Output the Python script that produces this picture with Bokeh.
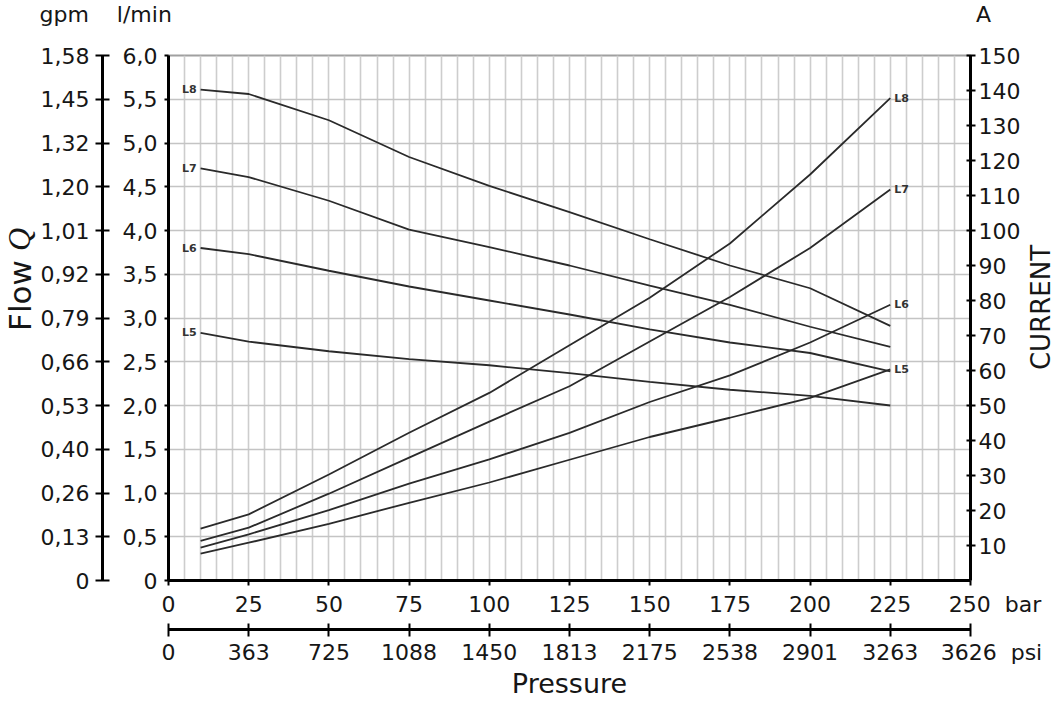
import numpy as np
from bokeh.plotting import figure
from bokeh.models import (Range1d, LinearAxis, FixedTicker, Grid, Label,
                          ColumnDataSource)
from bokeh.core.properties import value
from bokeh.embed import file_html
from bokeh.resources import INLINE

# ---------------- data ----------------
pressure_bar = [10, 25, 50, 75, 100, 125, 150, 175, 200, 225]

flow_L8 = [5.61, 5.56, 5.26, 4.84, 4.51, 4.21, 3.90, 3.60, 3.34, 2.91]
flow_L7 = [4.71, 4.61, 4.34, 4.01, 3.81, 3.60, 3.37, 3.15, 2.90, 2.67]
flow_L6 = [3.80, 3.73, 3.54, 3.36, 3.20, 3.04, 2.87, 2.72, 2.60, 2.39]
flow_L5 = [2.83, 2.73, 2.62, 2.53, 2.46, 2.37, 2.27, 2.18, 2.11, 2.00]

current_L8 = [14.8, 18.9, 30.3, 42.2, 53.6, 67.2, 80.8, 96.3, 116.0, 137.8]
current_L7 = [11.3, 15.1, 24.8, 35.1, 45.4, 55.5, 68.3, 81.0, 95.0, 111.7]
current_L6 = [9.4, 13.2, 20.1, 27.7, 34.6, 42.2, 51.0, 58.6, 68.0, 78.8]
current_L5 = [7.7, 10.8, 16.2, 22.2, 28.0, 34.5, 41.0, 46.5, 52.2, 60.3]

series_names = ["L5", "L6", "L7", "L8"]
flows = [flow_L5, flow_L6, flow_L7, flow_L8]
currents = [current_L5, current_L6, current_L7, current_L8]

bar_ticks = [0, 25, 50, 75, 100, 125, 150, 175, 200, 225, 250]
bar_labels = ["0", "25", "50", "75", "100", "125", "150", "175", "200", "225", "250"]
psi_labels = ["0", "363", "725", "1088", "1450", "1813", "2175", "2538", "2901", "3263", "3626"]
lmin_ticks = [0.0, 0.5, 1.0, 1.5, 2.0, 2.5, 3.0, 3.5, 4.0, 4.5, 5.0, 5.5, 6.0]
lmin_labels = ["0", "0,5", "1,0", "1,5", "2,0", "2,5", "3,0", "3,5", "4,0", "4,5", "5,0", "5,5", "6,0"]
gpm_labels = ["0", "0,13", "0,26", "0,40", "0,53", "0,66", "0,79", "0,92", "1,01", "1,20", "1,32", "1,45", "1,58"]
current_ticks = [10, 20, 30, 40, 50, 60, 70, 80, 90, 100, 110, 120, 130, 140, 150]
grid_x_ticks = list(range(0, 251, 5))

unit_gpm, unit_lmin, unit_amp = "gpm", "l/min", "A"
unit_bar, unit_psi = "bar", "psi"
title_flow, title_q, title_pressure, title_current = "Flow", "Q", "Pressure", "CURRENT"

# ---------------- figure ----------------
FONT = "DejaVu Sans"
INK = "#161616"
LINE = "#2a2a2a"
NB = "\u00a0"

p = figure(width=1055, height=701, x_range=Range1d(0, 250), y_range=Range1d(0, 6),
           x_axis_type=None, y_axis_type=None, output_backend="svg",
           toolbar_location=None, min_border_left=168, min_border_right=85,
           min_border_top=55, min_border_bottom=121)
p.extra_y_ranges = {"current": Range1d(0, 150)}
p.outline_line_color = "#a0a0a0"
p.outline_line_width = 2
p.background_fill_color = "white"
p.border_fill_color = "white"

p.add_layout(Grid(dimension=0, ticker=FixedTicker(ticks=grid_x_ticks),
                  grid_line_color="#cdcdcd", grid_line_width=1.6))
p.add_layout(Grid(dimension=1, ticker=FixedTicker(ticks=lmin_ticks),
                  grid_line_color="#c4c4c4", grid_line_width=1.6))


def style_axis(ax, tick_in, tick_out, standoff, fs="22px"):
    ax.axis_line_color = "black"
    ax.axis_line_width = 3
    ax.major_tick_line_color = "black"
    ax.major_tick_line_width = 2
    ax.major_tick_in = tick_in
    ax.major_tick_out = tick_out
    ax.minor_tick_line_color = None
    ax.major_label_standoff = standoff
    ax.major_label_text_font = FONT
    ax.major_label_text_font_size = fs
    ax.major_label_text_color = INK
    ax.axis_label_text_font = FONT
    ax.axis_label_text_font_style = "normal"
    ax.axis_label_text_color = INK


# left: l/min (next to frame), then gpm
ax_lmin = LinearAxis(ticker=FixedTicker(ticks=lmin_ticks),
                     major_label_overrides=dict(zip(lmin_ticks, lmin_labels)))
style_axis(ax_lmin, 0, 4, 7)
ax_lmin.axis_label = " "
ax_lmin.axis_label_text_font_size = "10px"
ax_lmin.axis_label_standoff = 3
p.add_layout(ax_lmin, "left")

ax_gpm = LinearAxis(ticker=FixedTicker(ticks=lmin_ticks),
                    major_label_overrides=dict(zip(lmin_ticks, gpm_labels)))
style_axis(ax_gpm, 7, 7, 6)
p.add_layout(ax_gpm, "left")

# bottom: bar then psi
bar_over = dict(zip(bar_ticks, bar_labels))
bar_over[bar_ticks[-1]] = NB * 7 + bar_labels[-1] + NB * 2 + unit_bar
ax_bar = LinearAxis(ticker=FixedTicker(ticks=bar_ticks), major_label_overrides=bar_over)
style_axis(ax_bar, 0, 5, 6)
ax_bar.axis_label = " "
ax_bar.axis_label_text_font_size = "5px"
ax_bar.axis_label_standoff = 1
p.add_layout(ax_bar, "below")

psi_over = dict(zip(bar_ticks, psi_labels))
psi_over[bar_ticks[-1]] = NB * 6 + psi_labels[-1] + NB * 2 + unit_psi
ax_psi = LinearAxis(ticker=FixedTicker(ticks=bar_ticks), major_label_overrides=psi_over)
style_axis(ax_psi, 6, 7, 3)
ax_psi.axis_label = title_pressure
ax_psi.axis_label_text_font_size = "27px"
ax_psi.axis_label_standoff = 0
p.add_layout(ax_psi, "below")

# right: current
ax_cur = LinearAxis(y_range_name="current", ticker=FixedTicker(ticks=current_ticks))
style_axis(ax_cur, 4, 5, 3)
p.add_layout(ax_cur, "right")

# ---------------- captions (held in side panels, placed by page pixel) ----------------
FX0, FY0 = 168.0, 580.0
SX, SY = 802.0 / 250.0, 525.0 / 6.0


def caption(txt, px, py, size, side, align="center", angle=0.0, font=FONT,
            style="normal"):
    lab = Label(x=(px - FX0) / SX, y=(FY0 - py) / SY, text=txt, angle=angle,
                text_align=align, text_baseline="middle", text_font=font,
                text_font_size=size, text_font_style=style, text_color=INK)
    p.add_layout(lab, side)


top_text = unit_gpm + NB * 4 + unit_lmin + NB * 115 + unit_amp
caption(top_text, 39, 13.5, "22px", "above", align="left")
caption(title_q, 18.5, 239, "32px", "above", angle=np.pi / 2,
        font="Liberation Serif", style="italic")
caption(title_flow, 19, 295, "31px", "left", angle=np.pi / 2)
caption(title_current, 1040, 307, "26px", "right", angle=np.pi / 2)

# ---------------- curves ----------------
for name, fl, cu in zip(series_names, flows, currents):
    p.line(pressure_bar, fl, line_color=LINE, line_width=1.8)
    p.line(pressure_bar, cu, line_color=LINE, line_width=1.8, y_range_name="current")

left_src = ColumnDataSource(dict(x=[pressure_bar[0]] * 4, y=[f[0] for f in flows],
                                 t=series_names))
right_src = ColumnDataSource(dict(x=[pressure_bar[-1]] * 4, y=[c[-1] for c in currents],
                                  t=series_names))
p.text(x="x", y="y", text="t", source=left_src, text_font=value(FONT),
       text_font_size="11px", text_font_style="bold", text_color="#333333",
       text_align="right", text_baseline="middle", x_offset=-4)
p.text(x="x", y="y", text="t", source=right_src, y_range_name="current",
       text_font=value(FONT), text_font_size="11px", text_font_style="bold",
       text_color="#333333", text_align="left", text_baseline="middle", x_offset=4)

open("out.html", "w").write(file_html(p, INLINE))
